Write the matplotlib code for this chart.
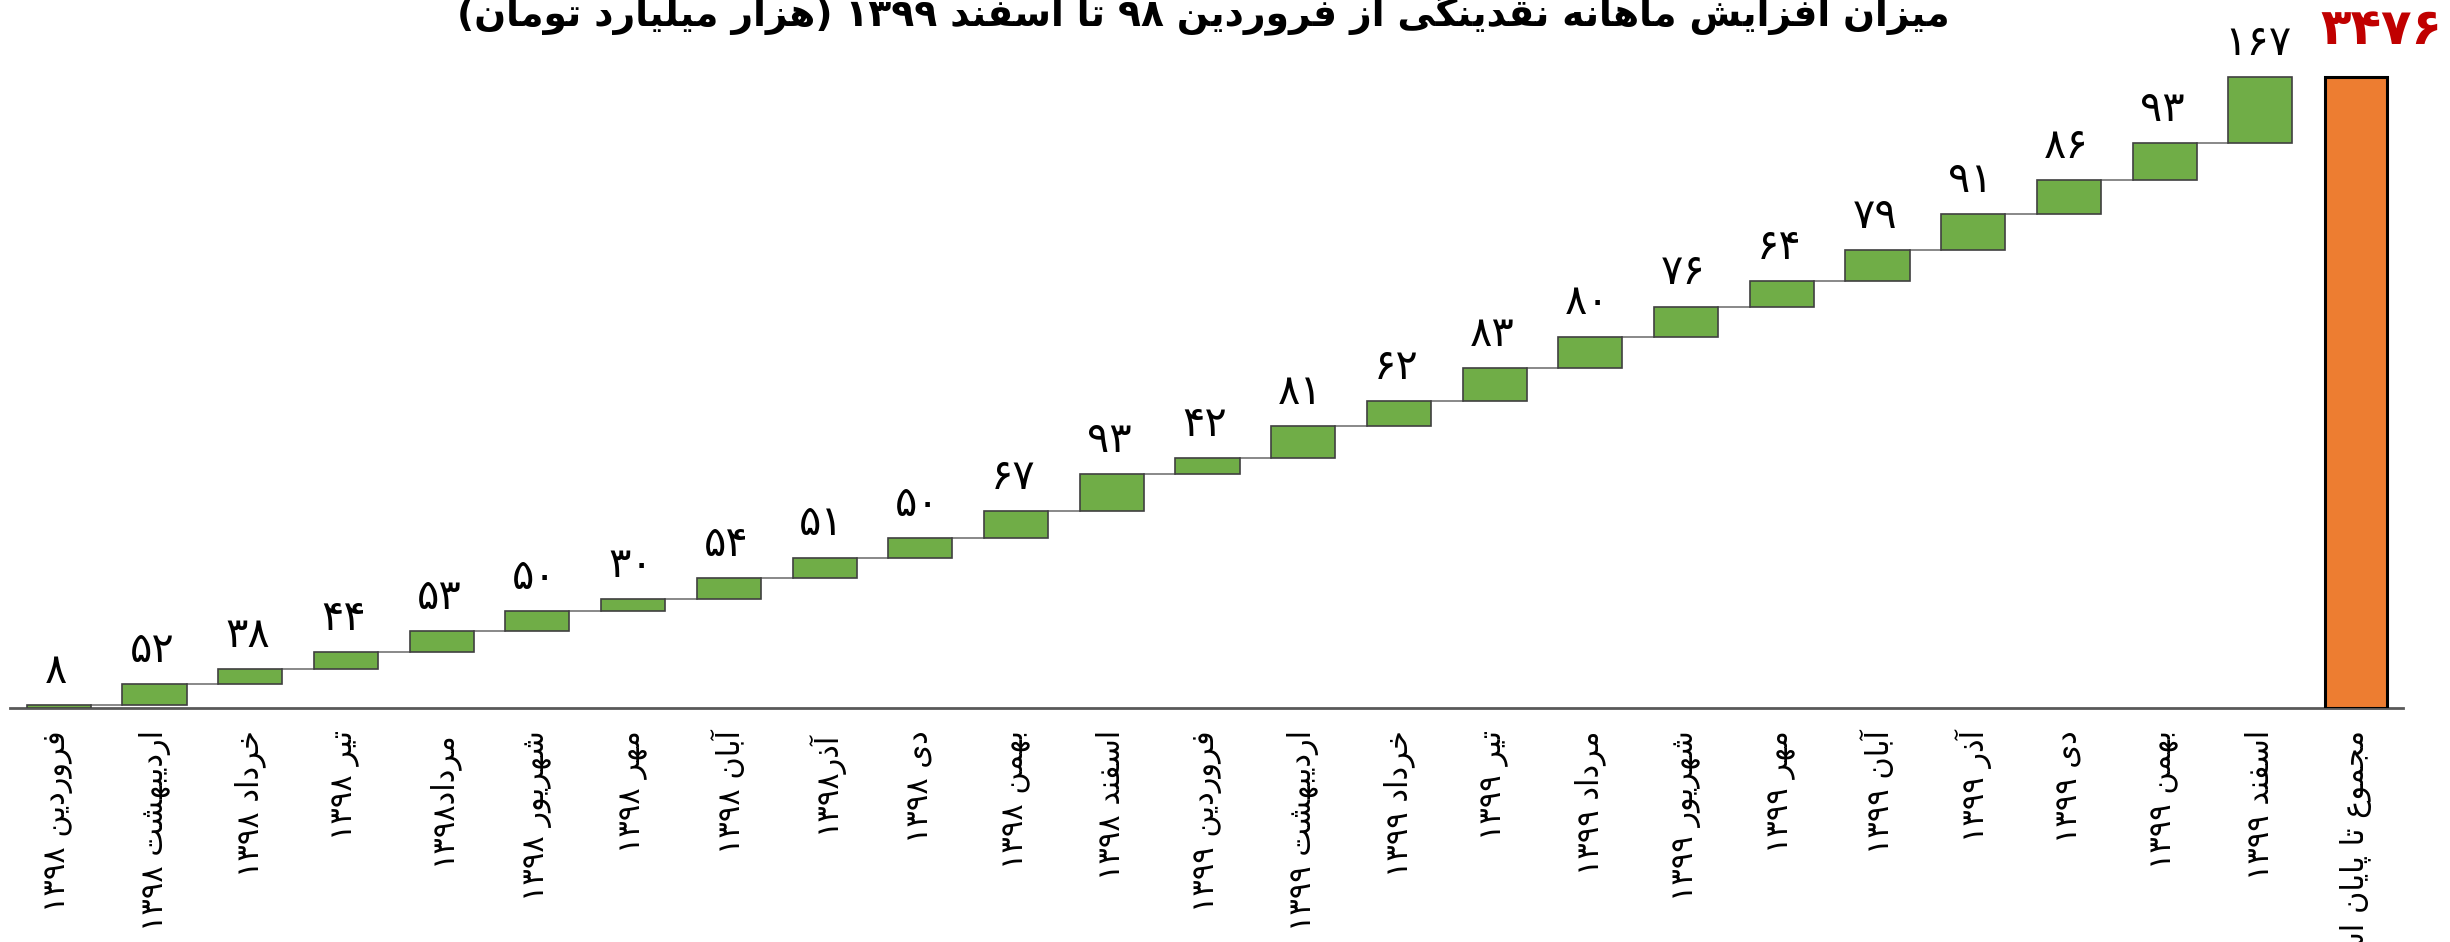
import re
import numpy as np
import matplotlib
matplotlib.use("Agg")
import matplotlib.pyplot as plt

# monthly increase of liquidity (thousand billion toman)
months = ["فروردین ۱۳۹۸", "اردیبهشت ۱۳۹۸", "خرداد ۱۳۹۸", "تیر ۱۳۹۸", "مرداد۱۳۹۸",
          "شهریور ۱۳۹۸", "مهر ۱۳۹۸", "آبان ۱۳۹۸", "آذر۱۳۹۸", "دی ۱۳۹۸", "بهمن ۱۳۹۸",
          "اسفند ۱۳۹۸", "فروردین ۱۳۹۹", "اردیبهشت ۱۳۹۹", "خرداد ۱۳۹۹", "تیر ۱۳۹۹",
          "مرداد ۱۳۹۹", "شهریور ۱۳۹۹", "مهر ۱۳۹۹", "آبان ۱۳۹۹", "آذر ۱۳۹۹", "دی ۱۳۹۹",
          "بهمن ۱۳۹۹", "اسفند ۱۳۹۹"]
increase = [8, 52, 38, 44, 53, 50, 30, 54, 51, 50, 67, 93,
            42, 81, 62, 83, 80, 76, 64, 79, 91, 86, 93, 167]
total_label = "مجموع تا پایان اسفند ۱۳۹۹"
total = 3476
title = "میزان افزایش ماهانه نقدینگی از فروردین ۹۸ تا اسفند ۱۳۹۹ (هزار میلیارد تومان)"

# poor man's arabic shaping + bidi (matplotlib does neither)
_forms = {'آ': (0xFE81, 2), 'ا': (0xFE8D, 2), 'ب': (0xFE8F, 4), 'پ': (0xFB56, 4),
          'ت': (0xFE95, 4), 'ج': (0xFE9D, 4), 'خ': (0xFEA5, 4), 'د': (0xFEA9, 2),
          'ذ': (0xFEAB, 2), 'ر': (0xFEAD, 2), 'ز': (0xFEAF, 2), 'س': (0xFEB1, 4),
          'ش': (0xFEB5, 4), 'ع': (0xFEC9, 4), 'ف': (0xFED1, 4), 'ق': (0xFED5, 4),
          'ل': (0xFEDD, 4), 'م': (0xFEE1, 4), 'ن': (0xFEE5, 4), 'ه': (0xFEE9, 4),
          'و': (0xFEED, 2), 'ی': (0xFBFC, 4), 'ک': (0xFB8E, 4), 'گ': (0xFB92, 4)}


def shape(s):
    out = []
    for i, c in enumerate(s):
        if c not in _forms:
            out.append(c)
            continue
        base, n = _forms[c]
        prev = s[i - 1] if i > 0 else ''
        nxt = s[i + 1] if i + 1 < len(s) else ''
        jp = prev in _forms and _forms[prev][1] == 4
        jn = n == 4 and nxt in _forms
        out.append(chr(base + {(0, 0): 0, (1, 0): 1, (0, 1): 2, (1, 1): 3}[(jp, jn)]))
    vis = ''.join(out)[::-1]
    vis = re.sub('[۰-۹0-9]+', lambda m: m.group()[::-1], vis)
    return vis.translate(str.maketrans('()', ')('))


def fa(n):
    return str(n).translate(str.maketrans('0123456789', '۰۱۲۳۴۵۶۷۸۹'))


plt.rcParams['font.family'] = ['DejaVu Sans']

start = total - sum(increase)
tops = start + np.cumsum(increase)
bottoms = tops - np.array(increase)
x = np.arange(len(increase) + 1)
w = 0.67

fig = plt.figure(figsize=(24.5, 9.42), dpi=100)
ax = fig.add_axes([10 / 2450, 1 - 708 / 942, 2393 / 2450, 708 / 942])

ax.bar(x[:-1], increase, bottom=bottoms, width=w, color='#70AD47',
       edgecolor='#404040', linewidth=1.2, zorder=3)
ax.bar(x[-1], total - start, bottom=start, width=0.65, color='#ED7D31',
       edgecolor='black', linewidth=2.2, zorder=3)

# connectors
for i in range(len(increase) - 1):
    ax.plot([x[i] + w / 2, x[i + 1] - w / 2], [tops[i], tops[i]],
            color='#7F7F7F', lw=1.3, zorder=2)

for i, v in enumerate(increase):
    ax.annotate(shape(fa(v)), (x[i], tops[i]), xytext=(-2, 16),
                textcoords='offset points', ha='center', va='baseline',
                fontsize=30, color='black')

ax.annotate(shape(fa(total)), (x[-1], total), xytext=(18, 24),
            textcoords='offset points', ha='center', va='baseline',
            fontsize=36, fontweight='bold', color='#C00000', annotation_clip=False)

ax.set_xlim(-0.51, 24.49)
ax.set_ylim(start, start + 708 / 0.3959)
ax.set_xticks(x)
ax.set_xticklabels([shape(m) for m in months] + [shape(total_label)],
                   rotation=90, fontsize=22, va='top', ha='center')
ax.tick_params(axis='x', length=0, pad=16)
ax.set_yticks([])
for s in ['left', 'right', 'top']:
    ax.spines[s].set_visible(False)
ax.spines['bottom'].set_color('#595959')
ax.spines['bottom'].set_linewidth(2)
ax.patch.set_visible(False)

fig.text(0.491, 1 - 26 / 942, shape(title), ha='center', va='baseline',
         fontsize=27, fontweight='bold')

fig.savefig('out.png', dpi=100)
